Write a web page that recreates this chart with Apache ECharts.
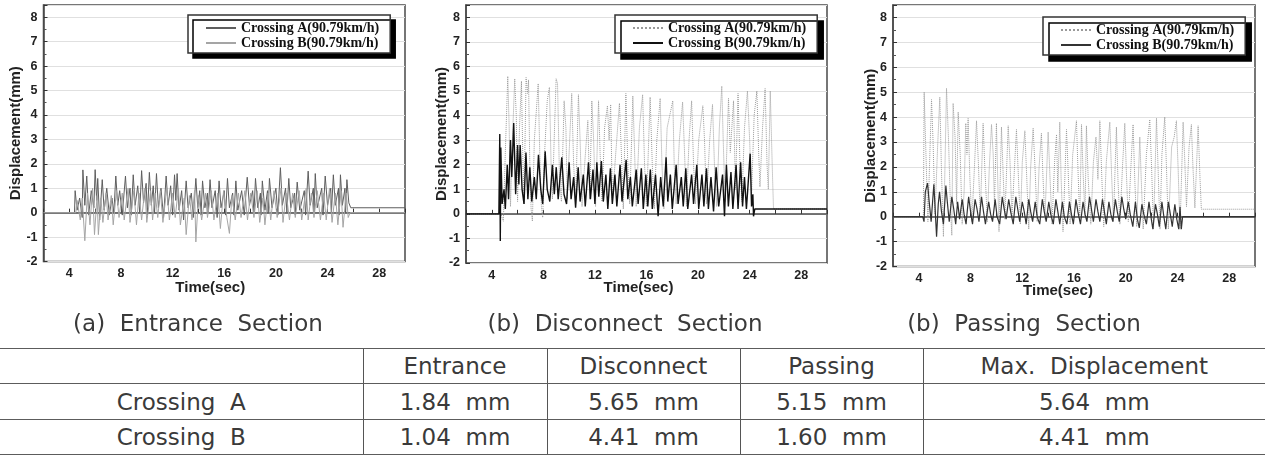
<!DOCTYPE html>
<html>
<head>
<meta charset="utf-8">
<script src="https://cdn.jsdelivr.net/npm/echarts@6/dist/echarts.min.js"></script>
<style>
  html, body { margin: 0; padding: 0; background: #fff; }
  #page { position: relative; width: 1265px; height: 455px; overflow: hidden; }
  .chart { position: absolute; top: 0; height: 345px; }
  #summary {
    position: absolute; left: 0; top: 348px; width: 1265px;
    border-collapse: collapse; table-layout: fixed;
    font-family: "DejaVu Sans", sans-serif; font-size: 23px; color: #3a3a3a;
  }
  #summary td {
    text-align: center; white-space: pre; padding: 0;
    border-top: 1.5px solid #5c5c5c; border-bottom: 1.5px solid #5c5c5c;
  }
  #summary td + td { border-left: 1.5px solid #555; }
</style>
</head>
<body>
<div id="page">
  <div id="chart-entrance" class="chart" style="left:0;width:420px"></div>
  <div id="chart-disconnect" class="chart" style="left:420px;width:422px"></div>
  <div id="chart-passing" class="chart" style="left:842px;width:423px"></div>
  <table id="summary"></table>
</div>
<script>
// Axis ranges shared by the three plots
const timeRange = [2, 30];
const dispRange = [-2, 8.5];
const legendNames = ["Crossing A(90.79km/h)", "Crossing B(90.79km/h)"];
const captions = ["(a)  Entrance  Section", "(b)  Disconnect  Section", "(b)  Passing  Section"];

// [time (sec), displacement (mm)]
const entranceA = [
  [2,0],[4.4,0],[4.45,0.9],[4.6,0.1],[4.8,0.6],[5.0,-0.2],[5.05,1.75],[5.2,0.3],[5.35,1.5],[5.5,-0.1],
  [5.7,0.9],[5.9,0.2],[6.0,1.76],[6.12,0.5],[6.2,1.4],[6.35,-0.3],[6.55,1.35],[6.7,0.1],[6.9,1.0],[7.1,-0.1],
  [7.3,0.6],[7.45,0.0],[7.6,1.5],[7.75,0.3],[7.9,0.9],[8.1,-0.1],[8.35,1.5],[8.5,0.2],[8.7,1.0],[8.8,-0.1],
  [8.95,1.55],[9.1,0.3],[9.3,1.1],[9.45,0.0],[9.6,1.72],[9.75,0.4],[9.95,1.2],[10.05,-0.1],[10.2,1.65],[10.35,0.3],
  [10.5,1.1],[10.6,0.0],[10.75,1.6],[10.9,0.2],[11.1,1.0],[11.3,-0.2],[11.5,1.5],[11.65,0.3],[11.85,1.1],[12.0,-0.1],
  [12.15,1.55],[12.25,0.5],[12.35,1.6],[12.5,0.1],[12.7,0.9],[12.85,-0.3],[13.05,1.3],[13.2,0.2],[13.45,0.8],[13.6,-0.2],
  [13.8,1.4],[13.95,0.2],[14.1,0.9],[14.2,-0.1],[14.32,1.3],[14.5,0.2],[14.7,0.8],[14.75,0.0],[14.9,1.35],[15.05,0.2],
  [15.3,0.9],[15.45,-0.2],[15.6,1.3],[15.75,0.2],[16.0,0.9],[16.1,-0.1],[16.25,1.4],[16.4,0.2],[16.65,0.8],[16.75,-0.1],
  [16.9,1.3],[17.05,0.1],[17.35,0.9],[17.55,-0.1],[17.78,1.45],[17.95,0.3],[18.2,0.9],[18.3,0.0],[18.42,1.4],[18.6,0.2],
  [18.8,0.8],[18.85,-0.1],[18.95,1.3],[19.15,0.1],[19.35,0.9],[19.4,0.0],[19.5,1.4],[19.7,0.2],[20.0,1.0],[20.15,-0.1],
  [20.35,1.84],[20.5,0.3],[20.75,1.0],[20.85,0.0],[21.0,1.4],[21.15,0.2],[21.45,0.8],[21.5,-0.1],[21.65,1.25],[21.85,0.1],
  [22.2,0.9],[22.3,-0.1],[22.5,1.7],[22.65,0.3],[22.9,1.0],[22.95,0.0],[23.05,1.6],[23.2,0.2],[23.55,1.0],[23.65,-0.1],
  [23.82,1.5],[24.0,0.3],[24.25,1.0],[24.3,0.0],[24.45,1.55],[24.6,0.3],[24.85,1.0],[24.9,-0.1],[25.0,1.55],[25.15,0.3],
  [25.35,1.0],[25.4,0.0],[25.5,1.35],[25.65,0.4],[25.8,0.2],[30,0.2]
];
const entranceB = [
  [2,0],[4.5,0],[4.6,0.5],[4.85,-0.3],[5.0,0.6],[5.2,-1.15],[5.4,0.8],[5.6,-0.5],[5.8,1.0],[5.95,-0.9],
  [6.15,0.7],[6.25,-0.9],[6.45,0.6],[6.6,-0.4],[6.85,0.8],[7.0,-0.3],[7.25,0.7],[7.4,-0.5],[7.65,0.9],[7.85,-0.2],
  [8.1,0.8],[8.25,-0.3],[8.55,1.0],[8.7,-0.4],[9.0,0.9],[9.2,-0.5],[9.4,0.8],[9.6,-0.3],[9.85,1.0],[10.0,-0.4],
  [10.3,0.9],[10.45,-0.3],[10.65,0.8],[10.85,-0.2],[11.05,0.9],[11.25,-0.4],[11.55,1.0],[11.75,-0.3],[12.0,0.8],[12.2,-0.2],
  [12.45,1.0],[12.6,-0.5],[12.9,0.6],[13.05,-0.9],[13.3,0.7],[13.5,-0.3],[13.7,0.9],[13.8,-1.2],[14.0,0.7],[14.25,-0.3],
  [14.55,0.8],[14.7,-0.2],[15.0,0.9],[15.2,-0.3],[15.5,0.8],[15.7,-0.65],[15.95,0.9],[16.2,-0.2],[16.4,-0.85],[16.6,0.7],
  [16.85,-0.3],[17.1,0.8],[17.3,-0.2],[17.6,0.9],[17.8,-0.3],[18.05,0.8],[18.3,-0.2],[18.55,0.9],[18.75,-0.4],[19.0,0.6],
  [19.15,-0.5],[19.4,0.8],[19.6,-0.3],[19.85,0.9],[20.1,-0.2],[20.4,1.0],[20.55,-0.4],[20.8,0.8],[21.05,-0.3],[21.3,0.8],
  [21.5,-0.2],[21.8,0.9],[22.0,-0.3],[22.35,1.0],[22.5,-0.3],[22.75,0.8],[22.95,-0.2],[23.2,0.9],[23.45,-0.3],[23.7,0.8],
  [23.9,-0.3],[24.15,1.0],[24.35,-0.4],[24.6,0.8],[24.8,-0.5],[25.05,0.9],[25.2,-0.6],[25.45,0.8],[25.6,-0.2],[25.75,0],
  [30,0]
];
const disconnectA = [
  [2,0],[4.7,0],[4.9,-0.3],[5.05,2.5],[5.24,5.6],[5.35,3.5],[5.45,0.3],[5.6,3.0],[5.78,5.5],[5.9,4.0],
  [6.0,0.5],[6.15,3.5],[6.3,5.4],[6.4,2.5],[6.5,0.4],[6.66,5.55],[6.78,4.9],[6.85,5.45],[6.95,2.0],[7.05,0.2],
  [7.15,-0.3],[7.3,3.0],[7.6,5.3],[7.72,2.5],[7.85,0.3],[7.95,-0.15],[8.1,2.5],[8.3,4.6],[8.47,5.15],[8.6,2.0],
  [8.7,0.6],[8.85,3.2],[8.99,5.5],[9.1,5.3],[9.25,1.5],[9.4,0.5],[9.61,4.6],[9.75,3.5],[9.85,0.6],[10.0,2.5],
  [10.2,4.9],[10.35,2.0],[10.5,0.4],[10.72,4.85],[10.85,3.0],[11.0,0.3],[11.2,2.0],[11.45,3.8],[11.6,0.6],[11.76,4.6],
  [11.9,3.0],[12.05,0.3],[12.28,4.6],[12.4,2.5],[12.55,0.5],[12.75,3.5],[12.97,4.4],[13.1,3.0],[13.22,4.45],[13.35,0.5],
  [13.55,2.0],[13.9,4.5],[14.05,2.5],[14.2,0.2],[14.4,4.9],[14.55,2.0],[14.7,0.4],[14.94,4.8],[15.05,3.0],[15.2,0.3],
  [15.45,3.5],[15.7,4.85],[15.85,2.0],[16.0,0.3],[16.28,4.75],[16.45,2.0],[16.6,0.2],[16.8,3.0],[17.06,4.7],[17.2,2.0],
  [17.35,0.2],[17.6,3.5],[18.04,4.6],[18.15,2.0],[18.3,0.4],[18.55,3.0],[18.8,4.55],[18.95,2.5],[19.1,0.3],[19.3,3.0],
  [19.5,4.6],[19.65,2.0],[19.8,0.4],[20.05,3.0],[20.37,4.4],[20.5,3.0],[20.65,0.4],[20.9,3.0],[21.12,4.45],[21.3,1.5],
  [21.45,0.3],[21.65,3.5],[21.84,5.2],[21.95,3.0],[22.1,0.5],[22.36,4.7],[22.5,2.5],[22.75,4.6],[22.9,1.0],[23.1,4.9],
  [23.25,2.0],[23.4,0.5],[23.6,3.5],[23.83,5.0],[24.0,3.0],[24.15,0.8],[24.35,4.0],[24.56,5.0],[24.7,2.5],[24.8,1.1],
  [25.0,3.5],[25.2,5.1],[25.35,2.0],[25.45,1.0],[25.6,5.0],[25.75,2.0],[25.85,0.2],[30,0.2]
];
const disconnectB = [
  [2,0],[4.55,0],[4.62,3.25],[4.66,-1.1],[4.7,2.7],[4.8,0.4],[4.95,1.0],[5.05,0.2],[5.2,2.0],[5.3,0.6],
  [5.45,3.0],[5.55,1.5],[5.7,3.7],[5.85,0.8],[6.0,2.8],[6.1,1.2],[6.2,2.8],[6.35,1.0],[6.5,0.4],[6.65,2.5],
  [6.8,0.6],[6.95,1.9],[7.1,0.5],[7.3,1.5],[7.45,0.6],[7.62,2.4],[7.8,1.0],[7.95,0.4],[8.14,2.55],[8.3,1.0],
  [8.5,0.5],[8.7,2.0],[8.85,0.8],[9.0,1.9],[9.15,0.6],[9.43,2.3],[9.6,0.8],[9.8,0.4],[10.0,2.1],[10.15,0.6],
  [10.35,1.5],[10.5,0.25],[10.7,1.9],[10.85,0.5],[11.1,1.6],[11.25,0.3],[11.5,2.1],[11.65,0.6],[11.85,1.8],[12.0,0.4],
  [12.15,2.1],[12.3,0.7],[12.5,2.15],[12.65,0.5],[12.85,1.6],[13.0,0.2],[13.2,1.85],[13.35,0.4],[13.55,1.6],[13.7,0.3],
  [13.95,2.0],[14.1,0.5],[14.42,2.2],[14.55,0.6],[14.75,1.5],[14.9,0.3],[15.2,1.8],[15.35,0.4],[15.6,1.85],[15.75,0.2],
  [15.95,1.6],[16.1,0.3],[16.3,1.8],[16.45,0.2],[16.7,1.6],[16.9,-0.1],[17.1,1.5],[17.3,0.3],[17.52,2.3],[17.65,0.5],
  [17.85,1.6],[18.0,0.2],[18.3,2.0],[18.45,0.4],[18.7,1.5],[18.85,0.3],[19.05,1.85],[19.2,0.2],[19.5,1.6],[19.65,0.4],
  [19.9,2.0],[20.05,0.2],[20.3,1.6],[20.45,0.3],[20.65,1.85],[20.8,0.2],[21.0,1.5],[21.2,0.1],[21.4,1.9],[21.6,0.3],
  [21.9,1.6],[22.05,-0.1],[22.2,2.0],[22.35,0.3],[22.55,1.7],[22.7,0.2],[22.95,2.0],[23.1,0.2],[23.3,2.1],[23.45,0.3],
  [23.6,1.5],[23.75,0.2],[24.04,2.45],[24.15,0.3],[24.25,0.8],[24.3,-0.1],[24.4,0.2],[30,0.2]
];
const passingA = [
  [2,0],[4.35,0],[4.41,5.0],[4.55,2.5],[4.7,-0.2],[4.85,2.5],[4.98,4.7],[5.1,3.0],[5.25,0.1],[5.45,2.8],
  [5.62,4.8],[5.75,1.8],[5.9,-0.8],[6.0,1.5],[6.14,5.15],[6.3,3.0],[6.45,0.3],[6.55,-0.75],[6.65,4.55],[6.8,3.2],
  [6.92,0.5],[7.04,4.2],[7.2,2.5],[7.35,-0.3],[7.5,1.0],[7.63,3.75],[7.72,2.5],[7.81,3.95],[7.95,1.5],[8.1,-0.2],
  [8.3,2.0],[8.46,3.85],[8.6,2.2],[8.75,0.0],[8.97,3.75],[9.1,2.0],[9.3,-0.2],[9.45,2.0],[9.62,3.7],[9.75,2.5],
  [9.85,0.4],[10.0,3.75],[10.1,1.5],[10.2,-0.6],[10.39,3.6],[10.5,2.0],[10.65,-0.1],[10.91,3.65],[11.05,2.2],[11.2,0.0],
  [11.4,2.0],[11.55,3.5],[11.7,1.6],[11.85,-0.3],[12.0,2.2],[12.2,3.45],[12.35,1.5],[12.5,-0.5],[12.65,2.0],[12.84,3.55],
  [13.0,1.8],[13.15,-0.2],[13.3,2.0],[13.48,3.35],[13.6,1.6],[13.75,-0.1],[14.0,3.4],[14.15,1.5],[14.3,-0.3],[14.5,2.2],
  [14.65,3.3],[14.75,1.0],[14.9,3.8],[15.0,1.6],[15.15,-0.6],[15.42,3.5],[15.55,1.8],[15.7,-0.3],[15.9,2.5],[16.19,3.85],
  [16.3,2.0],[16.45,-0.2],[16.58,3.7],[16.7,1.8],[16.85,0.0],[16.96,3.65],[17.1,1.5],[17.3,-0.3],[17.5,2.2],[17.7,3.2],
  [17.85,1.5],[18.0,3.85],[18.15,1.6],[18.3,-0.4],[18.5,2.2],[18.77,3.8],[18.9,1.8],[19.05,-0.2],[19.28,3.6],[19.4,1.5],
  [19.55,-0.3],[19.75,2.0],[19.93,3.75],[20.05,1.8],[20.2,-0.2],[20.4,2.0],[20.57,3.7],[20.7,1.5],[20.85,-0.4],[21.09,3.2],
  [21.2,1.5],[21.35,-0.5],[21.6,2.5],[21.86,3.9],[22.0,2.0],[22.15,-0.5],[22.38,3.95],[22.5,2.0],[22.65,-0.5],[22.8,2.5],
  [23.02,4.0],[23.15,2.0],[23.3,-0.5],[23.55,2.8],[23.75,3.2],[23.92,3.85],[24.05,2.0],[24.2,-0.5],[24.44,3.8],[24.55,2.5],
  [24.7,0.4],[24.9,2.8],[25.08,3.7],[25.2,2.0],[25.35,0.35],[25.6,3.65],[25.75,1.5],[25.85,0.3],[30,0.3]
];
const passingB = [
  [2,0],[4.3,0],[4.4,-0.2],[4.5,1.0],[4.67,1.35],[4.8,0.6],[4.95,-0.2],[5.16,1.3],[5.25,0.4],[5.37,-0.8],
  [5.5,0.5],[5.6,1.0],[5.75,0.2],[5.9,-0.3],[6.09,1.25],[6.2,0.6],[6.35,-0.2],[6.55,0.8],[6.7,0.3],[6.85,-0.3],
  [7.0,0.6],[7.15,-0.1],[7.35,0.7],[7.5,0.1],[7.65,-0.3],[7.85,0.8],[8.0,0.2],[8.15,-0.3],[8.35,0.7],[8.5,0.3],
  [8.65,-0.2],[8.85,0.8],[9.0,0.2],[9.15,-0.3],[9.4,0.6],[9.55,0.1],[9.7,-0.2],[9.9,0.7],[10.05,0.0],[10.25,-0.3],
  [10.45,0.8],[10.6,0.3],[10.75,-0.1],[10.95,0.7],[11.1,0.2],[11.3,-0.3],[11.5,0.8],[11.65,0.3],[11.8,-0.2],[12.0,0.6],
  [12.15,0.2],[12.3,-0.3],[12.5,0.7],[12.65,0.2],[12.8,-0.2],[13.0,0.6],[13.15,0.0],[13.35,-0.3],[13.55,0.7],[13.7,0.2],
  [13.85,-0.2],[14.05,0.6],[14.2,0.1],[14.4,-0.3],[14.6,0.7],[14.75,0.2],[14.9,-0.3],[15.1,0.6],[15.25,0.0],[15.45,-0.3],
  [15.65,0.6],[15.8,0.1],[15.95,-0.3],[16.15,0.7],[16.3,0.2],[16.5,-0.3],[16.7,0.6],[16.85,0.1],[17.0,-0.2],[17.2,0.8],
  [17.35,0.3],[17.5,-0.2],[17.7,0.7],[17.85,0.2],[18.0,-0.2],[18.2,0.7],[18.35,0.2],[18.5,-0.3],[18.7,0.6],[18.85,0.1],
  [19.0,-0.2],[19.2,0.7],[19.35,0.2],[19.5,-0.2],[19.7,0.8],[19.85,0.3],[20.0,-0.1],[20.2,0.6],[20.35,0.1],[20.55,-0.4],
  [20.75,0.6],[20.9,-0.1],[21.05,-0.45],[21.25,0.5],[21.4,0.1],[21.6,-0.3],[21.8,0.6],[21.95,0.0],[22.1,-0.5],[22.3,0.5],
  [22.45,0.1],[22.6,-0.4],[22.8,0.6],[22.95,0.0],[23.1,-0.5],[23.3,0.6],[23.45,0.1],[23.6,-0.4],[23.8,0.5],[23.95,-0.1],
  [24.1,-0.5],[24.2,0.4],[24.3,-0.5],[24.4,0],[30,0]
];

// Summary table
const tableHeader = ["", "Entrance", "Disconnect", "Passing", "Max.  Displacement"];
const crossingARow = ["Crossing  A", "1.84  mm", "5.65  mm", "5.15  mm", "5.64  mm"];
const crossingBRow = ["Crossing  B", "1.04  mm", "4.41  mm", "1.60  mm", "4.41  mm"];
const columnWidths = [363, 184, 193, 183, 342];
const rowHeights = [35, 36, 35];

const tickFont = { color: "#222", fontFamily: "Liberation Sans", fontWeight: "bold", fontSize: 12.5 };

function buildOption(cfg) {
  return {
    animation: false,
    grid: {
      left: cfg.grid[0], top: cfg.grid[1], width: cfg.grid[2], height: cfg.grid[3],
      show: true, borderColor: "#4a4a4a", borderWidth: 1.5,
    },
    legend: {
      orient: "vertical",
      left: cfg.legendPos[0],
      top: cfg.legendPos[1],
      data: legendNames,
      itemWidth: 30,
      itemHeight: 14,
      itemGap: 1,
      padding: [6, 11, 3, 17],
      backgroundColor: "#fff",
      borderColor: "#333",
      borderWidth: 1.5,
      borderRadius: 0,
      shadowColor: "#000",
      shadowBlur: 0,
      shadowOffsetX: cfg.shadow,
      shadowOffsetY: cfg.shadow,
      // hide the symbol so the key is a plain line sample
      itemStyle: { color: "rgba(0,0,0,0)", borderWidth: 0, opacity: 0 },
      textStyle: { color: "#111", fontFamily: "Liberation Serif", fontWeight: "bold", fontSize: 14 },
    },
    xAxis: {
      type: "value",
      min: timeRange[0],
      max: timeRange[1],
      interval: 2,
      name: "Time(sec)",
      nameLocation: "middle",
      nameGap: cfg.xNameGap,
      nameMoveOverlap: false,
      nameTextStyle: {
        color: "#222", fontFamily: "Liberation Sans", fontWeight: "bold", fontSize: 15,
        padding: [0, cfg.nameShift, 0, 0],
      },
      axisLine: { lineStyle: { color: "#4a4a4a", width: 1.5 } },
      axisTick: { inside: true, length: 4, lineStyle: { color: "#333" } },
      axisLabel: {
        ...tickFont, margin: 6,
        formatter: (v) => (v % 4 === 0 && v > 2 && v < 30 ? String(v) : ""),
      },
      splitLine: { show: false },
    },
    yAxis: {
      type: "value",
      min: dispRange[0],
      max: dispRange[1],
      interval: 1,
      name: "Displacement(mm)",
      nameLocation: "middle",
      nameGap: cfg.yNameGap,
      nameMoveOverlap: false,
      nameTextStyle: { color: "#222", fontFamily: "Liberation Sans", fontWeight: "bold", fontSize: 15 },
      axisLine: { lineStyle: { color: "#4a4a4a", width: 1.5 } },
      axisTick: { inside: true, length: 4, lineStyle: { color: "#333" } },
      minorTick: { show: true, splitNumber: 2, length: 3, lineStyle: { color: "#555" } },
      axisLabel: {
        ...tickFont, margin: 6,
        formatter: (v) => (Number.isInteger(v) ? String(v) : ""),
      },
      splitLine: { lineStyle: { color: "#e0e0e0", width: 1 } },
    },
    graphic: [
      {
        type: "text",
        x: cfg.captionX,
        y: 325,
        style: {
          text: cfg.caption,
          font: '23px "DejaVu Sans"',
          fill: "#3a3a3a",
          align: "center",
          verticalAlign: "middle",
        },
      },
    ],
    series: [
      {
        name: legendNames[0],
        type: "line",
        data: cfg.dataA,
        symbol: "none",
        lineStyle: { color: cfg.colorA, width: 1, type: cfg.typeA },
        itemStyle: { color: cfg.colorA },
      },
      {
        name: legendNames[1],
        type: "line",
        data: cfg.dataB,
        symbol: "none",
        lineStyle: { color: cfg.colorB, width: cfg.widthB, type: "solid" },
        itemStyle: { color: cfg.colorB },
      },
    ],
  };
}

const chartConfigs = [
  {
    el: "chart-entrance", grid: [43.5, 5, 361.5, 256.5], legendPos: [188, 15], shadow: 5,
    captionX: 198, caption: captions[0], nameShift: 28, xNameGap: 19, yNameGap: 20,
    dataA: entranceA, dataB: entranceB,
    colorA: "#5e5e5e", typeA: "solid", colorB: "#a5a5a5", widthB: 1,
  },
  {
    el: "chart-disconnect", grid: [46, 5, 361, 258], legendPos: [195, 15], shadow: 6,
    captionX: 205, caption: captions[1], nameShift: 16, xNameGap: 17, yNameGap: 17,
    dataA: disconnectA, dataB: disconnectB,
    colorA: "#9a9a9a", typeA: "dotted", colorB: "#111", widthB: 1.4,
  },
  {
    el: "chart-passing", grid: [51, 5, 362, 261.5], legendPos: [201, 17], shadow: 6,
    captionX: 182, caption: captions[2], nameShift: 32, xNameGap: 17, yNameGap: 15,
    dataA: passingA, dataB: passingB,
    colorA: "#9a9a9a", typeA: "dotted", colorB: "#333", widthB: 1.2,
  },
];

chartConfigs.forEach((cfg) => {
  const chart = echarts.init(document.getElementById(cfg.el));
  chart.setOption(buildOption(cfg));
});

// Build the summary table from the row arrays
const table = document.getElementById("summary");
const colgroup = document.createElement("colgroup");
columnWidths.forEach((w) => {
  const col = document.createElement("col");
  col.style.width = w + "px";
  colgroup.appendChild(col);
});
table.appendChild(colgroup);
[tableHeader, crossingARow, crossingBRow].forEach((row, i) => {
  const tr = document.createElement("tr");
  tr.style.height = rowHeights[i] + "px";
  row.forEach((cell) => {
    const td = document.createElement("td");
    td.textContent = cell;
    tr.appendChild(td);
  });
  table.appendChild(tr);
});
</script>
</body>
</html>
